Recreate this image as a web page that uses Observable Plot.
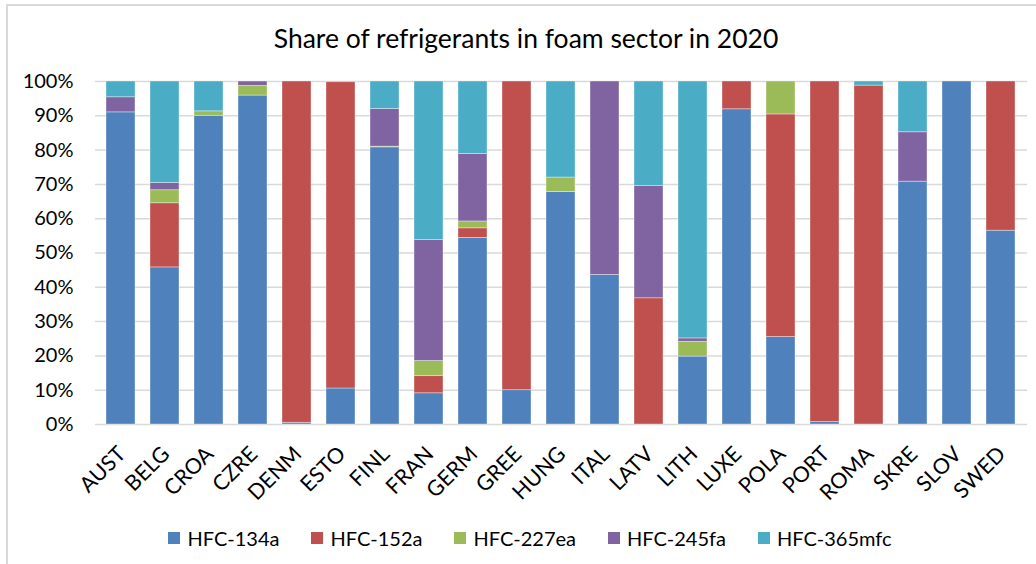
<!DOCTYPE html>
<html>
<head>
<meta charset="utf-8">
<script src="https://cdn.jsdelivr.net/npm/d3@7"></script>
<script src="https://cdn.jsdelivr.net/npm/@observablehq/plot@0.6"></script>
<style>
  html, body { margin: 0; padding: 0; background: #fff; }
  #wrap { position: relative; width: 1036px; height: 564px; overflow: hidden; font-family: Lato, "Noto Sans", sans-serif; color: #000; }
  #frame { position: absolute; left: 6px; top: 4px; width: 1100px; height: 700px; border-top: 2px solid #d9d9d9; border-left: 2px solid #d9d9d9; box-sizing: border-box; pointer-events: none; }
  #title { height: 60px; line-height: 60px; padding-top: 8px; box-sizing: border-box; text-align: center; font-size: 26.5px; padding-left: 16px; }
  #legend { display: flex; justify-content: center; align-items: center; gap: 32px; font-size: 20px; margin-top: 1px; padding-left: 24px; }
  #legend .item { display: flex; align-items: center; gap: 7px; }
  #legend .sw { width: 12px; height: 12px; display: inline-block; }
  svg { display: block; }
</style>
</head>
<body>
<div id="wrap">
  <div id="frame"></div>
  <div id="title">Share of refrigerants in foam sector in 2020</div>
  <div id="chart"></div>
  <div id="legend"></div>
</div>
<script>
const countries = ["AUST","BELG","CROA","CZRE","DENM","ESTO","FINL","FRAN","GERM","GREE","HUNG","ITAL","LATV","LITH","LUXE","POLA","PORT","ROMA","SKRE","SLOV","SWED"];
const seriesNames = ["HFC-134a","HFC-152a","HFC-227ea","HFC-245fa","HFC-365mfc"];
const seriesColors = ["#4F81BD","#C0504D","#9BBB59","#8064A2","#4BACC6"];
const hfc134a  = [91.0, 45.8, 90.0, 95.9, 0.5, 10.5, 80.8, 9.1, 54.4, 10.0, 67.8, 43.6, 0, 19.8, 91.9, 25.5, 0.7, 0, 70.8, 100, 56.5];
const hfc152a  = [0, 18.7, 0, 0, 99.5, 89.3, 0, 5.0, 2.8, 90.0, 0, 0, 36.8, 0, 8.1, 64.9, 99.3, 98.8, 0, 0, 43.5];
const hfc227ea = [0, 3.8, 1.3, 2.8, 0, 0, 0.2, 4.4, 2.0, 0, 4.2, 0, 0, 4.3, 0, 9.6, 0, 0, 0, 0, 0];
const hfc245fa = [4.4, 2.1, 0, 1.3, 0, 0, 11.0, 35.3, 19.7, 0, 0, 56.4, 32.7, 1.0, 0, 0, 0, 0, 14.4, 0, 0];
const hfc365mfc = [4.6, 29.6, 8.7, 0, 0, 0.2, 8.0, 46.2, 21.1, 0, 28.0, 0, 30.5, 74.9, 0, 0, 0, 1.2, 14.8, 0, 0];
const yTicks = [0,10,20,30,40,50,60,70,80,90,100];

const seriesValues = [hfc134a, hfc152a, hfc227ea, hfc245fa, hfc365mfc];
const rows = [];
seriesNames.forEach((s, i) => {
  countries.forEach((c, j) => rows.push({country: c, series: s, value: seriesValues[i][j]}));
});

const chart = Plot.plot({
  width: 1036,
  height: 465,
  marginTop: 21,
  marginBottom: 101,
  marginLeft: 95,
  marginRight: 9,
  style: {fontFamily: "Lato, 'Noto Sans', sans-serif", fontSize: "19px", color: "#000", background: "transparent"},
  x: {domain: countries, paddingInner: 0.33, paddingOuter: 0.165, label: null},
  y: {domain: [0, 100], label: null},
  color: {domain: seriesNames, range: seriesColors},
  marks: [
    Plot.ruleY(yTicks, {stroke: "#d9d9d9", strokeWidth: 1.5}),
    Plot.barY(rows, {x: "country", y: "value", fill: "series", order: seriesNames, stroke: "#ffffff", strokeOpacity: 0.45, strokeWidth: 0.8}),
    Plot.axisY({ticks: yTicks, tickSize: 0, tickPadding: 22, tickFormat: d => d + "%", fontSize: 20}),
    Plot.axisX({tickSize: 0, tickRotate: -45, tickPadding: 26, dx: 1, fontSize: 21.5})
  ]
});
document.getElementById("chart").appendChild(chart);

const legend = document.getElementById("legend");
seriesNames.forEach((s, i) => {
  const item = document.createElement("span");
  item.className = "item";
  const sw = document.createElement("span");
  sw.className = "sw";
  sw.style.background = seriesColors[i];
  const t = document.createElement("span");
  t.textContent = s;
  item.appendChild(sw);
  item.appendChild(t);
  legend.appendChild(item);
});
</script>
</body>
</html>
